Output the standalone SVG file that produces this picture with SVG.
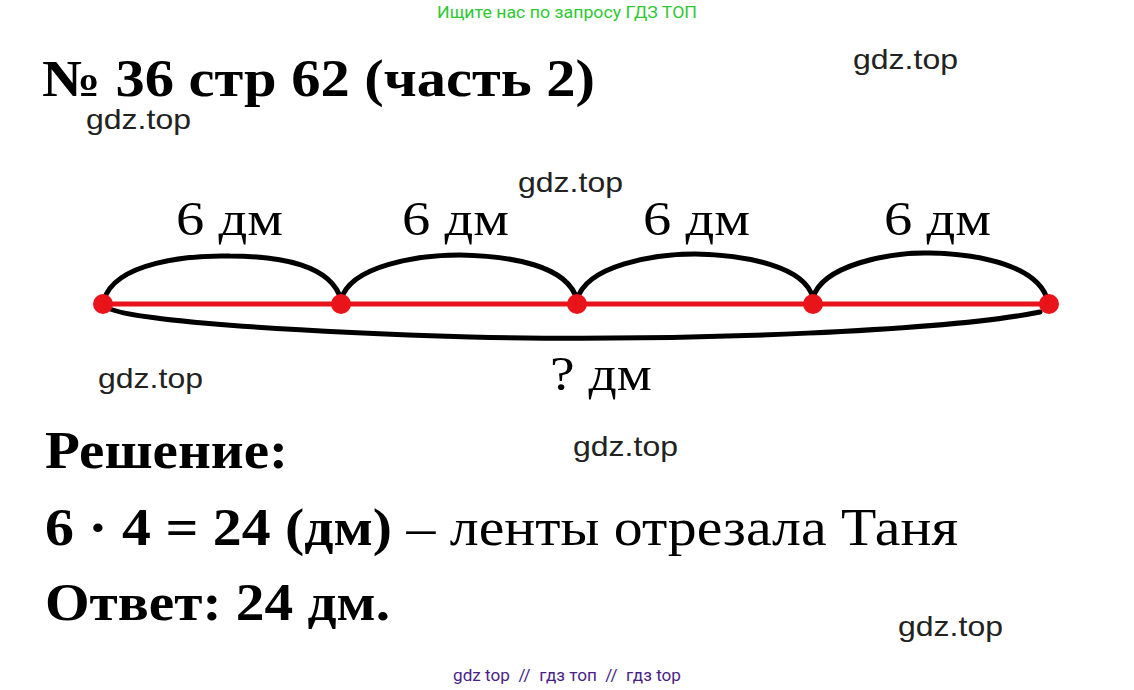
<svg xmlns="http://www.w3.org/2000/svg" width="1134" height="690" viewBox="0 0 1134 690">
<style>
.t{font-family:"Liberation Serif","Times New Roman",serif;fill:#000}
.b{font-weight:bold}
.w{font-family:"Liberation Sans",Arial,sans-serif;font-size:28px;fill:#222}
.arc{fill:none;stroke:#000;stroke-width:5;stroke-linecap:round}
.seg{stroke:#e8141a;stroke-width:5}
.dot{fill:#e8141a}
</style>
<rect width="1134" height="690" fill="#fff"/>
<text x="437" y="18" textLength="260" lengthAdjust="spacingAndGlyphs" font-family="Roboto,'Liberation Sans',sans-serif" font-size="17" fill="#2ec832">Ищите нас по запросу ГДЗ ТОП</text>
<text class="t b" x="42" y="96" font-size="52" textLength="553" lengthAdjust="spacingAndGlyphs">№ 36 стр 62 (часть 2)</text>
<text class="w" x="853" y="69" textLength="105" lengthAdjust="spacingAndGlyphs">gdz.top</text>
<text class="w" x="86" y="129" textLength="105" lengthAdjust="spacingAndGlyphs">gdz.top</text>
<text class="w" x="518" y="192" textLength="105" lengthAdjust="spacingAndGlyphs">gdz.top</text>
<text class="w" x="98" y="388" textLength="105" lengthAdjust="spacingAndGlyphs">gdz.top</text>
<text class="w" x="573" y="456" textLength="105" lengthAdjust="spacingAndGlyphs">gdz.top</text>
<text class="w" x="898" y="636" textLength="105" lengthAdjust="spacingAndGlyphs">gdz.top</text>
<g id="labels">
<text class="t" x="176" y="235" font-size="48" textLength="107" lengthAdjust="spacingAndGlyphs">6 дм</text>
<text class="t" x="402" y="235" font-size="48" textLength="107" lengthAdjust="spacingAndGlyphs">6 дм</text>
<text class="t" x="643" y="235" font-size="48" textLength="107" lengthAdjust="spacingAndGlyphs">6 дм</text>
<text class="t" x="884" y="235" font-size="48" textLength="107" lengthAdjust="spacingAndGlyphs">6 дм</text>
<text class="t" x="550" y="390" font-size="48" textLength="102" lengthAdjust="spacingAndGlyphs">? дм</text>
</g>
<g id="connectors">
<line class="seg" x1="103" y1="304" x2="1049" y2="304"/>
<path class="arc" d="M104,300 C115,262 190,255 230,256 C280,256 332,265 341,300"/>
<path class="arc" d="M341,300 C350,265 420,255 460,255 C510,256 568,265 577,300"/>
<path class="arc" d="M577,300 C586,265 655,254 695,254 C745,255 805,266 813,298"/>
<path class="arc" d="M813,298 C822,265 890,252 930,253 C980,254 1040,266 1048,302"/>
<path class="arc" d="M104,305 C108,318 250,330 470,337 C700,342 950,330 1040,312"/>
</g>
<g id="points">
<circle class="dot" cx="103" cy="304" r="10"/>
<circle class="dot" cx="341" cy="304" r="10"/>
<circle class="dot" cx="577" cy="304" r="10"/>
<circle class="dot" cx="813" cy="304" r="10"/>
<circle class="dot" cx="1049" cy="304" r="10"/>
</g>
<text class="t b" x="45" y="468" font-size="52" textLength="243" lengthAdjust="spacingAndGlyphs">Решение:</text>
<text class="t" x="45" y="545" font-size="52" textLength="913" lengthAdjust="spacingAndGlyphs"><tspan class="b">6 · 4 = 24 (дм)</tspan> – ленты отрезала Таня</text>
<text class="t b" x="45" y="620" font-size="52" textLength="345" lengthAdjust="spacingAndGlyphs">Ответ: 24 дм.</text>
<text x="453" y="681" textLength="228" lengthAdjust="spacingAndGlyphs" font-family="Roboto,'Liberation Sans',sans-serif" font-size="17" fill="#4a1f86" xml:space="preserve">gdz top  //  гдз топ  //  гдз top</text>
</svg>
